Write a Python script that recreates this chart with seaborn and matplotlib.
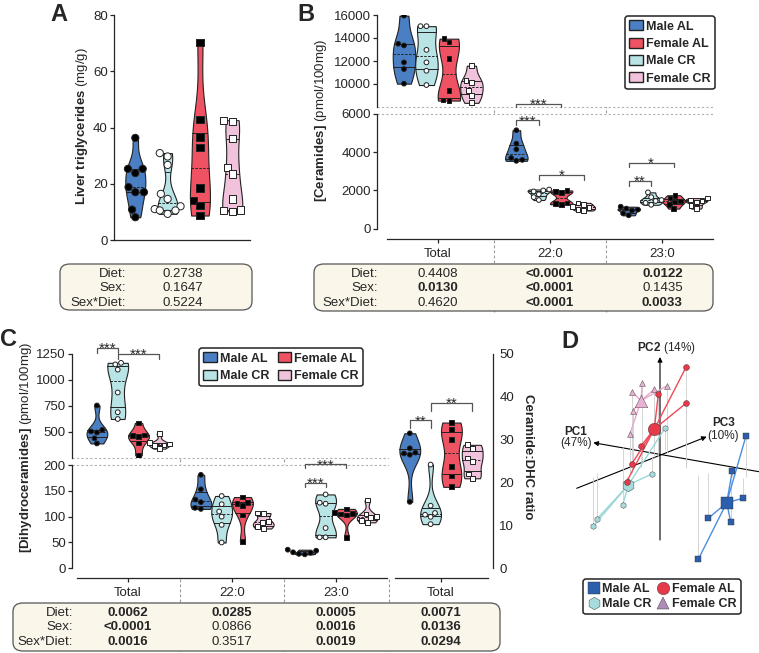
import matplotlib
matplotlib.use("Agg")
import matplotlib.pyplot as plt
import numpy as np
import pandas as pd
import seaborn as sns
from matplotlib.patches import FancyBboxPatch, Patch
from matplotlib.lines import Line2D
from matplotlib.transforms import blended_transform_factory

GROUPS = ["Male AL", "Male CR", "Female AL", "Female CR"]
LEGEND_ORDER = ["Male AL", "Female AL", "Male CR", "Female CR"]
FILL = {"Male AL": "#4b7fc4", "Male CR": "#b9e4e6", "Female AL": "#ef5262", "Female CR": "#f1c2dc"}
DOT_FACE = {"Male AL": "black", "Male CR": "white", "Female AL": "black", "Female CR": "white"}
DOT_MARK = {"Male AL": "o", "Male CR": "o", "Female AL": "s", "Female CR": "s"}

# --- A: liver triglycerides (mg/g)
tg = {
    "Male AL": [36.3, 25.3, 25.3, 23.8, 18.8, 17, 17, 10.8, 8.1],
    "Male CR": [30.9, 29.7, 26.7, 16.4, 14.6, 12, 11, 10.5, 10.5, 9.3],
    "Female AL": [70.1, 42.8, 36.6, 33, 18.5, 14, 12.2, 8.7],
    "Female CR": [42.6, 42, 36, 25.9, 23.5, 14.6, 10.7, 10.5, 10.2],
}

# --- B: ceramides (pmol/100mg)
CER_CATS = ["Total", "22:0", "23:0"]
cer_total = {
    "Male AL": [15940, 13500, 13350, 11880, 11300, 10030],
    "Male CR": [15030, 15030, 12970, 11880, 11150, 9910],
    "Female AL": [13940, 13650, 12240, 9440, 8600, 8560],
    "Female CR": [11590, 10330, 10120, 9440, 9000, 8360],
}
cer_22 = {
    "Male AL": [5150, 4450, 4150, 3700, 3600, 3550],
    "Male CR": [2050, 2000, 1950, 1800, 1650, 1500],
    "Female AL": [2000, 1950, 1900, 1350, 1300, 1280],
    "Female CR": [1350, 1250, 1150, 1100, 1000, 950],
}
cer_23 = {
    "Male AL": [1150, 1050, 1000, 950, 800, 700],
    "Male CR": [1900, 1650, 1500, 1450, 1350, 1250],
    "Female AL": [1750, 1600, 1450, 1400, 1250, 1050],
    "Female CR": [1600, 1500, 1450, 1400, 1200, 1050],
}

# --- C: dihydroceramides (pmol/100mg) and ceramide:DHC ratio
dhc_total = {
    "Male AL": [755, 520, 505, 495, 440, 390],
    "Male CR": [1165, 1150, 1100, 880, 690, 625],
    "Female AL": [587, 470, 465, 460, 395, 275],
    "Female CR": [485, 400, 385, 375, 370, 340],
}
dhc_22 = {
    "Male AL": [181, 153, 133, 128, 117, 115],
    "Male CR": [140, 124, 110, 100, 84, 50],
    "Female AL": [138, 128, 126, 122, 103, 52],
    "Female CR": [107, 106, 90, 88, 81, 77],
}
dhc_23 = {
    "Male AL": [36, 34, 31, 30, 28, 27],
    "Male CR": [143, 127, 125, 78, 60, 60],
    "Female AL": [115, 108, 106, 105, 103, 60],
    "Female CR": [132, 105, 100, 98, 92, 89],
}
ratio_total = {
    "Male AL": [31.5, 28, 27, 26.8, 26.5, 15.5],
    "Male CR": [24.2, 14.6, 12.9, 12.5, 12, 10.3],
    "Female AL": [34, 32.3, 30, 23.8, 21.5, 19],
    "Female CR": [28.8, 28, 25.7, 24.9, 22, 21],
}

# --- ANOVA p-values
ROW_NAMES = ["Diet:", "Sex:", "Sex*Diet:"]
p_a = ["0.2738", "0.1647", "0.5224"]
p_b = [["0.4408", "0.0130", "0.4620"], ["<0.0001", "<0.0001", "<0.0001"], ["0.0122", "0.1435", "0.0033"]]
p_c = [["0.0062", "<0.0001", "0.0016"], ["0.0285", "0.0866", "0.3517"], ["0.0005", "0.0016", "0.0019"]]
p_ratio = ["0.0071", "0.0136", "0.0294"]

# --- D: PCA, projected 3D scores (centroid + samples, floor = projection on PC1/PC3 plane)
pca_centroid = {"Male AL": (66.7, -48.7), "Male CR": (-31.7, -31), "Female AL": (-5.7, 25), "Female CR": (-19, 53.3)}
pca_x = {
    "Male AL": [86, 72.3, 82.7, 70.7, 48.3, 38.3],
    "Male CR": [5, -8.3, -37.3, -63.3, -66.7, -31],
    "Female AL": [26, 26, -1.7, -19, -28.3, -33.3],
    "Female CR": [-17.7, -28.3, -5.7, 6.7, -27.3, -30],
}
pca_y = {
    "Male AL": [18, -17, -44.3, -67.7, -64.3, -105.3],
    "Male CR": [25.7, -20, -51, -65.3, -72, -33.3],
    "Female AL": [86.7, 50.7, 59.7, 8, -10, -27.7],
    "Female CR": [71.3, 62.3, 64.7, 68, 43, 20],
}
pca_floor = {
    "Male AL": [-22.7, -22.7, -24.3, -26, -19.3, -21],
    "Male CR": [4, -2.7, 7.3, -19.3, -22.7, -24.3],
    "Female AL": [-14.3, -14.3, -2.7, -12.7, -19.3, -22.7],
    "Female CR": [-6, -9.3, -2.7, 0.7, -11, -19.3],
}
PCA_FACE = {"Male AL": "#2c5eae", "Male CR": "#a6dcdc", "Female AL": "#e63a4a", "Female CR": "#e9b2d4"}
PCA_LINE = {"Male AL": "#4a8ee0", "Male CR": "#9ad6d6", "Female AL": "#f04858", "Female CR": "#e8a8cc"}
PCA_MARK = {"Male AL": "s", "Male CR": "h", "Female AL": "o", "Female CR": "^"}

sns.set_style("ticks")
plt.rcParams["font.family"] = ["Liberation Sans", "DejaVu Sans"]
plt.rcParams["mathtext.fontset"] = "custom"
plt.rcParams["mathtext.rm"] = "Liberation Sans"
plt.rcParams["mathtext.bf"] = "Liberation Sans:bold"
plt.rcParams["axes.linewidth"] = 0.9
plt.rcParams["xtick.major.width"] = 0.9
plt.rcParams["ytick.major.width"] = 0.9
plt.rcParams["xtick.major.size"] = 3
plt.rcParams["ytick.major.size"] = 3
plt.rcParams["ytick.major.pad"] = 1.5
plt.rcParams["xtick.labelsize"] = 9.5
plt.rcParams["ytick.labelsize"] = 9.5

W, H = 759, 653
fig = plt.figure(figsize=(W / 100, H / 100), dpi=100)


def px_axes(x0, y0, x1, y1):
    return fig.add_axes([x0 / W, 1 - y1 / H, (x1 - x0) / W, (y1 - y0) / H])


def fy(y):
    return 1 - y / H


def long_df(tables, cats):
    rows = []
    for cat, d in zip(cats, tables):
        for g in GROUPS:
            for v in d[g]:
                rows.append((cat, g, v))
    return pd.DataFrame(rows, columns=["cat", "group", "val"])


def violins(ax, df, x, order, dodge, width, size):
    n0 = len(ax.lines)
    sns.violinplot(data=df, x=x, y="val", hue="group", order=order, hue_order=GROUPS,
                   palette=FILL, dodge=dodge, cut=0, inner="quart", density_norm="width",
                   bw_adjust=0.75, width=width, linewidth=0.8, linecolor="#222222",
                   saturation=1, legend=False, ax=ax)
    for i, ln in enumerate(ax.lines[n0:]):
        ln.set_linestyle((0, (2.5, 1.5)) if i % 3 == 1 else "-")
        ln.set_linewidth(0.7)
    for g in GROUPS:
        sub = df[df.group == g]
        sns.swarmplot(data=sub, x=x, y="val", hue="group", order=order, hue_order=GROUPS,
                      palette={k: DOT_FACE[g] for k in GROUPS}, dodge=dodge,
                      marker=DOT_MARK[g], size=size, edgecolor="#222222", linewidth=0.7,
                      legend=False, ax=ax, warn_thresh=1)
    ax.set_xlabel("")
    ax.set_ylabel("")


def bracket(ax, cat, i1, i2, y, leg, stars):
    x1 = cat + (i1 - 1.5) * 0.2
    x2 = cat + (i2 - 1.5) * 0.2
    ax.plot([x1, x1, x2, x2], [leg, y, y, leg], color="#555555", lw=0.9, clip_on=False, zorder=5)
    ax.annotate(stars, ((x1 + x2) / 2, y), xytext=(0, -3.5), textcoords="offset points",
                ha="center", va="baseline", fontsize=11, annotation_clip=False)


def table_box(x0, y0, x1, y1):
    fig.add_artist(FancyBboxPatch((x0 / W, fy(y1)), (x1 - x0) / W, (y1 - y0) / H,
                                  boxstyle="round,pad=0,rounding_size=0.013",
                                  transform=fig.transFigure, facecolor="#fbf6ea",
                                  edgecolor="#555555", lw=0.9, zorder=0))


def p_text(x, y, p, transform):
    bold = p.startswith("<") or float(p) < 0.05
    fig.text(x, y, p, transform=transform, ha="center", va="center", fontsize=9.5,
             fontweight="bold" if bold else "normal")


def row_labels(xr, ytop):
    for k, name in enumerate(ROW_NAMES):
        fig.text(xr / W, fy(ytop + 10 + 14.5 * k), name, ha="right", va="center", fontsize=9.5)


def vsep(ax, x, y0, y1):
    tr = blended_transform_factory(ax.transData, fig.transFigure)
    fig.add_artist(Line2D([x, x], [fy(y0), fy(y1)], transform=tr, color="#9a9a9a",
                          lw=0.8, ls=(0, (2.5, 2)), zorder=0))


def legend_patches(names):
    return [Patch(facecolor=FILL[g], edgecolor="#222222", lw=1, label=g) for g in names]


LEG_KW = dict(prop={"weight": "bold", "size": 9}, borderpad=0.35, labelspacing=0.4,
              handlelength=1.05, handleheight=0.85, handletextpad=0.25, borderaxespad=0,
              fancybox=True, edgecolor="#222222", framealpha=1, loc="upper left")

# ---------------- Panel A ----------------
ax_a = px_axes(114, 15, 250, 240)
df_a = pd.DataFrame([(g, v) for g in GROUPS for v in tg[g]], columns=["group", "val"])
violins(ax_a, df_a, "group", GROUPS, False, 0.62, 5.2)
ax_a.set_xlim(-0.66, 3.55)
ax_a.set_ylim(0, 80)
ax_a.set_yticks([0, 20, 40, 60, 80])
ax_a.set_xticks([])
sns.despine(ax=ax_a)
fig.text(82 / W, fy(126), r"$\bf{Liver\ triglycerides}$ (mg/g)", rotation=90,
         ha="center", va="center", fontsize=9.5)

table_box(60, 264, 252, 310)
row_labels(126, 264)
for k, p in enumerate(p_a):
    p_text(183 / W, fy(274 + 14.5 * k), p, fig.transFigure)

# ---------------- Panel B ----------------
df_b = long_df([cer_total, cer_22, cer_23], CER_CATS)
ax_bu = px_axes(377, 15, 713, 107)
ax_bl = px_axes(377, 114, 713, 239)
for ax in (ax_bu, ax_bl):
    violins(ax, df_b, "cat", CER_CATS, True, 0.8, 3.4)
    ax.set_xlim(-0.54, 2.45)
ax_bu.set_ylim(8000, 16000)
ax_bu.set_yticks([10000, 12000, 14000, 16000])
ax_bu.set_xticks([])
sns.despine(ax=ax_bu, bottom=True)
ax_bl.set_ylim(-540, 6000)
ax_bl.set_yticks([0, 2000, 4000, 6000])
ax_bl.set_xticks(range(3))
ax_bl.set_xticklabels(CER_CATS)
sns.despine(ax=ax_bl)
ax_bl.spines["left"].set_bounds(0, 6000)
ax_bl.spines["bottom"].set_bounds(-0.45, 2.45)
ax_bu.axhline(8000, color="#b0b0b0", lw=0.8, ls=(0, (2, 2)), clip_on=False)
ax_bl.axhline(6000, color="#b0b0b0", lw=0.8, ls=(0, (2, 2)), clip_on=False)
for xs in (0.5, 1.5):
    vsep(ax_bl, xs, 15, 312)

bracket(ax_bl, 1, 0, 1, 5660, 5440, "***")
bracket(ax_bu, 1, 0, 2, 8270, 8000, "***")
bracket(ax_bl, 1, 1, 3, 2790, 2560, "*")
bracket(ax_bl, 2, 0, 1, 2475, 2250, "**")
bracket(ax_bl, 2, 0, 2, 3440, 3210, "*")

fig.text(321 / W, fy(120), r"$\bf{[Ceramides]}$ (pmol/100mg)", rotation=90,
         ha="center", va="center", fontsize=9.5)

table_box(314, 264, 713, 311)
row_labels(378, 264)
tr_b = blended_transform_factory(ax_bl.transData, fig.transFigure)
for c, col in enumerate(p_b):
    for k, p in enumerate(col):
        p_text(c, fy(274 + 14.5 * k), p, tr_b)

leg_b = fig.legend(handles=legend_patches(LEGEND_ORDER), bbox_to_anchor=(625 / W, fy(16)), **LEG_KW)
leg_b.get_frame().set_linewidth(1.1)

# ---------------- Panel C ----------------
df_c = long_df([dhc_total, dhc_22, dhc_23], CER_CATS)
ax_cu = px_axes(72, 354, 389, 458)
ax_cl = px_axes(72, 465, 389, 578)
for ax in (ax_cu, ax_cl):
    violins(ax, df_c, "cat", CER_CATS, True, 0.8, 3.4)
    ax.set_xlim(-0.54, 2.51)
ax_cu.set_ylim(250, 1250)
ax_cu.set_yticks([500, 750, 1000, 1250])
ax_cu.set_xticks([])
sns.despine(ax=ax_cu, bottom=True)
ax_cl.set_ylim(-18.8, 200)
ax_cl.set_yticks([0, 50, 100, 150, 200])
ax_cl.set_xticks(range(3))
ax_cl.set_xticklabels(CER_CATS)
sns.despine(ax=ax_cl)
ax_cl.spines["left"].set_bounds(0, 200)
ax_cl.spines["bottom"].set_bounds(-0.49, 2.49)
ax_cu.axhline(250, color="#b0b0b0", lw=0.8, ls=(0, (2, 2)), clip_on=False)
ax_cl.axhline(200, color="#b0b0b0", lw=0.8, ls=(0, (2, 2)), clip_on=False)
for xs in (0.5, 1.5, 2.51):
    vsep(ax_cl, xs, 354, 651)

bracket(ax_cu, 0, 0, 1, 1308, 1260, "***")
bracket(ax_cu, 0, 1, 3, 1250, 1202, "***")
bracket(ax_cl, 2, 0, 1, 164.6, 158, "***")
bracket(ax_cl, 2, 0, 2, 201, 194, "***")

fig.text(26 / W, fy(447), r"$\bf{[Dihydroceramides]}$ (pmol/100mg)", rotation=90,
         ha="center", va="center", fontsize=9.5)

# ratio sub-panel
df_r = long_df([ratio_total], ["Total"])
ax_r = px_axes(389, 354, 493, 578)
violins(ax_r, df_r, "cat", ["Total"], True, 0.8, 3.4)
ax_r.set_xlim(-0.5, 0.5)
ax_r.set_ylim(-2.27, 50)
ax_r.set_yticks([0, 10, 20, 30, 40, 50])
ax_r.set_xticks([0])
ax_r.set_xticklabels(["Total"])
ax_r.yaxis.tick_right()
sns.despine(ax=ax_r, left=True, right=False)
ax_r.spines["right"].set_bounds(0, 50)
ax_r.spines["bottom"].set_bounds(-0.44, 0.45)
bracket(ax_r, 0, 0, 1, 34.5, 32.8, "**")
bracket(ax_r, 0, 1, 3, 38.5, 36.8, "**")
fig.text(528 / W, fy(457), "Ceramide:DHC ratio", rotation=270, ha="center", va="center",
         fontsize=9.5, fontweight="bold")

table_box(13, 603, 500, 651)
row_labels(73, 603)
tr_c = blended_transform_factory(ax_cl.transData, fig.transFigure)
for c, col in enumerate(p_c):
    for k, p in enumerate(col):
        p_text(c, fy(613 + 14.5 * k), p, tr_c)
tr_r = blended_transform_factory(ax_r.transData, fig.transFigure)
for k, p in enumerate(p_ratio):
    p_text(0, fy(613 + 14.5 * k), p, tr_r)

leg_c = fig.legend(handles=legend_patches(GROUPS), ncol=2, columnspacing=0.7,
                   bbox_to_anchor=(199 / W, fy(348)), **LEG_KW)
leg_c.get_frame().set_linewidth(1.1)

# ---------------- Panel D ----------------
ax_d = px_axes(560, 345, 759, 575)
ax_d.axis("off")
arrow = dict(arrowstyle="-|>", color="black", lw=0.8, mutation_scale=7, shrinkA=0, shrinkB=0)
ax_d.annotate("", xy=(0, 97), xytext=(0, -86), arrowprops=arrow, zorder=1)
ax_d.annotate("", xy=(-66.7, 11.3), xytext=(99, -17.7), arrowprops=arrow, zorder=1)
ax_d.annotate("", xy=(46.7, 17.3), xytext=(-83.3, -34.3), arrowprops=arrow, zorder=1)
ax_d.text(6, 105.7, r"$\bf{PC2}$ (14%)", ha="center", va="center", fontsize=8.5)
ax_d.text(-84, 22.3, "PC1", ha="center", va="center", fontsize=8.5, fontweight="bold")
ax_d.text(-84, 10.7, "(47%)", ha="center", va="center", fontsize=8.5)
ax_d.text(63.3, 30.7, "PC3", ha="center", va="center", fontsize=8.5, fontweight="bold")
ax_d.text(63.3, 18, "(10%)", ha="center", va="center", fontsize=8.5)

for g in ["Male AL", "Male CR", "Female CR", "Female AL"]:
    cx, cy = pca_centroid[g]
    ax_d.vlines(pca_x[g], pca_floor[g], pca_y[g], color="#cfcfcf", lw=0.6, zorder=1.5)
    for mx, my in zip(pca_x[g], pca_y[g]):
        ax_d.plot([cx, mx], [cy, my], color=PCA_LINE[g], lw=1, zorder=2)
    pts = pd.DataFrame({"x": pca_x[g], "y": pca_y[g]})
    sns.scatterplot(data=pts, x="x", y="y", marker=PCA_MARK[g], color=PCA_FACE[g], s=18,
                    edgecolor="#333333", linewidth=0.3, ax=ax_d, zorder=3, legend=False)
    ax_d.scatter([cx], [cy], marker=PCA_MARK[g], s=80, color=PCA_FACE[g],
                 edgecolor="#333333", linewidth=0.3, zorder=3)
ax_d.set_xlim(-100, 99)
ax_d.set_ylim(-121, 109)

d_handles = [Line2D([], [], ls="", marker=PCA_MARK[g], markersize=9,
                    markerfacecolor=("#b08ab8" if g == "Female CR" else PCA_FACE[g]),
                    markeredgecolor="#333333", markeredgewidth=0.3, label=g) for g in GROUPS]
leg_d = fig.legend(handles=d_handles, ncol=2, loc="upper left",
                   bbox_to_anchor=(583 / W, fy(579)), prop={"weight": "bold", "size": 9},
                   borderpad=0.35, labelspacing=0.2, handlelength=1.0, handletextpad=0.2,
                   columnspacing=0.4, borderaxespad=0, fancybox=True, edgecolor="#222222",
                   framealpha=1)
leg_d.get_frame().set_linewidth(1.1)

# panel letters
for letter, x, y in [("A", 50, 3), ("B", 297, 3), ("C", 0, 328), ("D", 561, 330)]:
    fig.text(x / W, fy(y), letter, ha="left", va="top", fontsize=17, fontweight="bold")

fig.savefig("out.png", dpi=100)
